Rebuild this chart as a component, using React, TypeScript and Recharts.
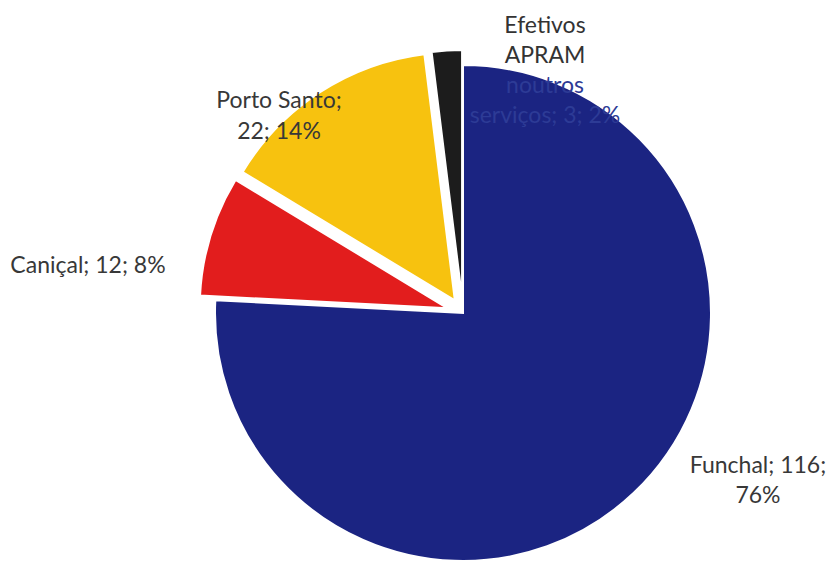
import React from 'react';
import { PieChart, Pie, Cell } from 'recharts';

const categories = ['Funchal', 'Caniçal', 'Porto Santo', 'Efetivos APRAM noutros serviços'];
const values = [116, 12, 22, 3];
const colors = ['#1b2482', '#e21d1d', '#f7c20f', '#1c1c1c'];
const explode = [0, 16, 15, 15];

// label text as printed on the chart (Excel-style "name; value; pct")
const labelLines = [
  ['Funchal; 116;', '76%'],
  ['Caniçal; 12; 8%'],
  ['Porto Santo;', '22; 14%'],
  ['Efetivos', 'APRAM', 'noutros', 'serviços; 3; 2%'],
];

const data = categories.map((name, i) => ({ name, value: values[i] }));

const CX = 463;
const CY = 313;
const R = 248;

// label anchors, relative to the pie centre
const labelPos = [
  { dx: 295, dy: 160, step: 30 },
  { dx: -375, dy: -40, step: 30 },
  { dx: -184, dy: -205, step: 31 },
  { dx: 82, dy: -280, step: 30 },
];
const lineColors = [
  ['#383838', '#383838'],
  ['#383838'],
  ['#383838', '#383838'],
  ['#333333', '#333333', '#2d3b96', '#2d3b96'],
];

const total = values.reduce((a, b) => a + b, 0);

const sliceCenter = (i: number) => {
  const before = values.slice(0, i).reduce((a, b) => a + b, 0);
  const mid = 90 - ((before + values[i] / 2) / total) * 360;
  const rad = (mid * Math.PI) / 180;
  return { x: CX + explode[i] * Math.cos(rad), y: CY - explode[i] * Math.sin(rad) };
};

const makeLabel = (slice: number) => (props: any) => {
  if (props.index !== slice) return null;
  const p = labelPos[slice];
  return (
    <text textAnchor="middle" fontFamily="Lato, 'Open Sans', sans-serif" fontSize={23}>
      {labelLines[slice].map((t, k) => (
        <tspan key={k} x={CX + p.dx} y={CY + p.dy + k * p.step} fill={lineColors[slice][k]}>
          {t}
        </tspan>
      ))}
    </text>
  );
};

export default function App() {
  return (
    <div style={{ position: 'absolute', left: 0, top: 0, width: 827, height: 564, background: '#fff' }}>
      <PieChart width={827} height={564} margin={{ top: 0, right: 0, bottom: 0, left: 0 }}>
        {categories.map((_, s) => {
          const c = sliceCenter(s);
          return (
            <Pie
              key={s}
              data={data}
              dataKey="value"
              nameKey="name"
              cx={c.x}
              cy={c.y}
              outerRadius={R}
              startAngle={90}
              endAngle={-270}
              isAnimationActive={false}
              labelLine={false}
              label={makeLabel(s)}
            >
              {data.map((_, i) => (
                <Cell
                  key={i}
                  fill={i === s ? colors[i] : 'transparent'}
                  stroke={i === s ? '#ffffff' : 'none'}
                  strokeWidth={i === s ? 2 : 0}
                />
              ))}
            </Pie>
          );
        })}
      </PieChart>
    </div>
  );
}
